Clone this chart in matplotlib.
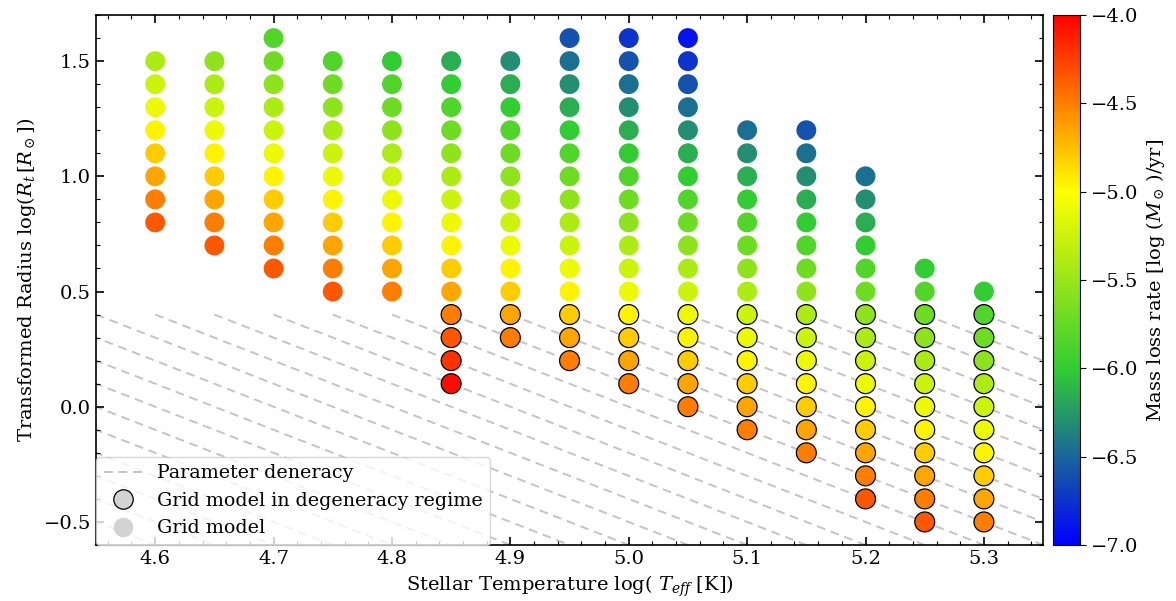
import numpy as np
import matplotlib
matplotlib.use("Agg")
import matplotlib.pyplot as plt
from matplotlib.colors import LinearSegmentedColormap, Normalize
from matplotlib.lines import Line2D
from matplotlib.ticker import MultipleLocator, FuncFormatter

plt.rcParams['font.family'] = ['DejaVu Serif']
plt.rcParams['mathtext.fontset'] = 'dejavuserif'
plt.rcParams['font.size'] = 14

# ---- data ----
teff_cols = [4.60, 4.65, 4.70, 4.75, 4.80, 4.85, 4.90, 4.95, 5.00, 5.05,
             5.10, 5.15, 5.20, 5.25, 5.30]

rt_460 = [0.8, 0.9, 1.0, 1.1, 1.2, 1.3, 1.4, 1.5]
rt_465 = [0.7, 0.8, 0.9, 1.0, 1.1, 1.2, 1.3, 1.4, 1.5]
rt_470 = [0.6, 0.7, 0.8, 0.9, 1.0, 1.1, 1.2, 1.3, 1.4, 1.5, 1.6]
rt_475 = [0.5, 0.6, 0.7, 0.8, 0.9, 1.0, 1.1, 1.2, 1.3, 1.4, 1.5]
rt_480 = [0.5, 0.6, 0.7, 0.8, 0.9, 1.0, 1.1, 1.2, 1.3, 1.4, 1.5]
rt_485 = [0.1, 0.2, 0.3, 0.4, 0.5, 0.6, 0.7, 0.8, 0.9, 1.0, 1.1, 1.2, 1.3, 1.4, 1.5]
rt_490 = [0.3, 0.4, 0.5, 0.6, 0.7, 0.8, 0.9, 1.0, 1.1, 1.2, 1.3, 1.4, 1.5]
rt_495 = [0.2, 0.3, 0.4, 0.5, 0.6, 0.7, 0.8, 0.9, 1.0, 1.1, 1.2, 1.3, 1.4, 1.5, 1.6]
rt_500 = [0.1, 0.2, 0.3, 0.4, 0.5, 0.6, 0.7, 0.8, 0.9, 1.0, 1.1, 1.2, 1.3, 1.4, 1.5, 1.6]
rt_505 = [0.0, 0.1, 0.2, 0.3, 0.4, 0.5, 0.6, 0.7, 0.8, 0.9, 1.0, 1.1, 1.2, 1.3, 1.4, 1.5, 1.6]
rt_510 = [-0.1, 0.0, 0.1, 0.2, 0.3, 0.4, 0.5, 0.6, 0.7, 0.8, 0.9, 1.0, 1.1, 1.2]
rt_515 = [-0.2, -0.1, 0.0, 0.1, 0.2, 0.3, 0.4, 0.5, 0.6, 0.7, 0.8, 0.9, 1.0, 1.1, 1.2]
rt_520 = [-0.4, -0.3, -0.2, -0.1, 0.0, 0.1, 0.2, 0.3, 0.4, 0.5, 0.6, 0.7, 0.8, 0.9, 1.0]
rt_525 = [-0.5, -0.4, -0.3, -0.2, -0.1, 0.0, 0.1, 0.2, 0.3, 0.4, 0.5, 0.6]
rt_530 = [-0.5, -0.4, -0.3, -0.2, -0.1, 0.0, 0.1, 0.2, 0.3, 0.4, 0.5]

mdot_460 = [-4.35, -4.50, -4.65, -4.80, -4.95, -5.10, -5.25, -5.40]
mdot_465 = [-4.35, -4.50, -4.65, -4.80, -4.95, -5.10, -5.25, -5.40, -5.55]
mdot_470 = [-4.35, -4.50, -4.65, -4.80, -4.95, -5.10, -5.25, -5.40, -5.55, -5.70, -5.85]
mdot_475 = [-4.35, -4.50, -4.65, -4.80, -4.95, -5.10, -5.25, -5.40, -5.55, -5.70, -5.85]
mdot_480 = [-4.50, -4.65, -4.80, -4.95, -5.10, -5.25, -5.40, -5.55, -5.70, -5.85, -6.00]
mdot_485 = [-4.05, -4.20, -4.35, -4.50, -4.65, -4.80, -4.95, -5.10, -5.25, -5.40, -5.55,
            -5.70, -5.85, -6.00, -6.15]
mdot_490 = [-4.50, -4.65, -4.80, -4.95, -5.10, -5.25, -5.40, -5.55, -5.70, -5.85, -6.00,
            -6.15, -6.30]
mdot_495 = [-4.50, -4.65, -4.80, -4.95, -5.10, -5.25, -5.40, -5.55, -5.70, -5.85, -6.00,
            -6.15, -6.30, -6.45, -6.60]
mdot_500 = [-4.50, -4.65, -4.80, -4.95, -5.10, -5.25, -5.40, -5.55, -5.70, -5.85, -6.00,
            -6.15, -6.30, -6.45, -6.60, -6.75]
mdot_505 = [-4.50, -4.65, -4.80, -4.95, -5.10, -5.25, -5.40, -5.55, -5.70, -5.85, -6.00,
            -6.15, -6.30, -6.45, -6.60, -6.75, -6.90]
mdot_510 = [-4.50, -4.65, -4.80, -4.95, -5.10, -5.25, -5.40, -5.55, -5.70, -5.85, -6.00,
            -6.15, -6.30, -6.45]
mdot_515 = [-4.50, -4.65, -4.80, -4.95, -5.10, -5.25, -5.40, -5.55, -5.70, -5.85, -6.00,
            -6.15, -6.30, -6.45, -6.60]
mdot_520 = [-4.35, -4.50, -4.65, -4.80, -4.95, -5.10, -5.25, -5.40, -5.55, -5.70, -5.85,
            -6.00, -6.15, -6.30, -6.45]
mdot_525 = [-4.35, -4.50, -4.65, -4.80, -4.95, -5.10, -5.25, -5.40, -5.55, -5.70, -5.85,
            -6.00]
mdot_530 = [-4.50, -4.65, -4.80, -4.95, -5.10, -5.25, -5.40, -5.55, -5.70, -5.85, -6.00]

# number of lowest grid points per column that lie in the degeneracy regime
n_degenerate = [0, 0, 0, 0, 0, 4, 2, 3, 4, 5, 6, 7, 9, 10, 10]

# start temperatures of the degeneracy lines (all at log Rt = 0.4, slope -2)
line_start_teff = [4.05, 4.10, 4.15, 4.20, 4.25, 4.30, 4.35, 4.40, 4.45, 4.50,
                   4.55, 4.60, 4.65, 4.70, 4.75, 4.80, 4.85, 4.90, 4.95, 5.00,
                   5.05, 5.10, 5.15, 5.20, 5.25, 5.30]
line_start_rt = 0.4
line_slope = -2.0

cbar_ticks = [-4.0, -4.5, -5.0, -5.5, -6.0, -6.5, -7.0]

rt_cols = [rt_460, rt_465, rt_470, rt_475, rt_480, rt_485, rt_490, rt_495,
           rt_500, rt_505, rt_510, rt_515, rt_520, rt_525, rt_530]
mdot_cols = [mdot_460, mdot_465, mdot_470, mdot_475, mdot_480, mdot_485, mdot_490,
             mdot_495, mdot_500, mdot_505, mdot_510, mdot_515, mdot_520, mdot_525,
             mdot_530]

fmt = FuncFormatter(lambda v, p: ('%.1f' % v).replace('-', '\u2212'))

# ---- figure ----
fig = plt.figure(figsize=(11.76, 6.01), dpi=100)
ax = fig.add_axes([0.0816, 0.0932, 0.8054, 0.8818])
cax = fig.add_axes([0.8955, 0.0932, 0.0230, 0.8818])

cmap = LinearSegmentedColormap.from_list('bgyr', ['blue', 'limegreen', 'yellow', 'red'])
norm = Normalize(vmin=-7.0, vmax=-4.0)

# degeneracy lines
for x0 in line_start_teff:
    xs = np.array([x0, x0 + 1.2])
    ys = line_start_rt + line_slope * (xs - x0)
    ax.plot(xs, ys, ls=(0, (4.5, 3)), color='#c4c4c4', lw=1.4, zorder=1)

xn, yn, cn, xd, yd, cd = [], [], [], [], [], []
for t, rts, md, nd in zip(teff_cols, rt_cols, mdot_cols, n_degenerate):
    for i, (r, m) in enumerate(zip(rts, md)):
        if i < nd:
            xd.append(t); yd.append(r); cd.append(m)
        else:
            xn.append(t); yn.append(r); cn.append(m)

size = 205
sc = ax.scatter(xn, yn, c=cn, cmap=cmap, norm=norm, s=size, edgecolors='none', zorder=3)
ax.scatter(xd, yd, c=cd, cmap=cmap, norm=norm, s=size, edgecolors='black',
           linewidths=0.9, zorder=3)

ax.set_xlim(4.55, 5.35)
ax.set_ylim(-0.6, 1.7)
ax.xaxis.set_major_locator(MultipleLocator(0.1))
ax.xaxis.set_minor_locator(MultipleLocator(0.02))
ax.yaxis.set_major_locator(MultipleLocator(0.5))
ax.yaxis.set_minor_locator(MultipleLocator(0.1))
ax.xaxis.set_major_formatter(fmt)
ax.yaxis.set_major_formatter(fmt)
ax.tick_params(which='both', direction='in', top=True, right=True)
ax.tick_params(which='major', length=6, width=1.2)
ax.tick_params(which='minor', length=3, width=0.8)
for sp in ax.spines.values():
    sp.set_linewidth(1.2)

ax.set_xlabel(r'Stellar Temperature log( $T_{eff}$ [K])')
ax.set_ylabel(r'Transformed Radius log($R_t\,[R_\odot]$)')

handles = [
    Line2D([], [], ls=(0, (4.5, 3)), color='#c4c4c4', lw=1.4),
    Line2D([], [], ls='none', marker='o', markersize=14, markerfacecolor='lightgray',
           markeredgecolor='black', markeredgewidth=0.9),
    Line2D([], [], ls='none', marker='o', markersize=14, markerfacecolor='lightgray',
           markeredgecolor='none'),
]
labels = ['Parameter deneracy', 'Grid model in degeneracy regime', 'Grid model']
ax.legend(handles, labels, loc='lower left', borderaxespad=0.0, fontsize=13.7,
          labelspacing=0.5)

cb = fig.colorbar(sc, cax=cax, ticks=cbar_ticks)
cb.ax.yaxis.set_major_formatter(fmt)
cb.set_label(r'Mass loss rate [$\log\,(M_\odot\,)$/yr]')
cb.ax.tick_params(length=4)

fig.savefig('out.png', dpi=100)
